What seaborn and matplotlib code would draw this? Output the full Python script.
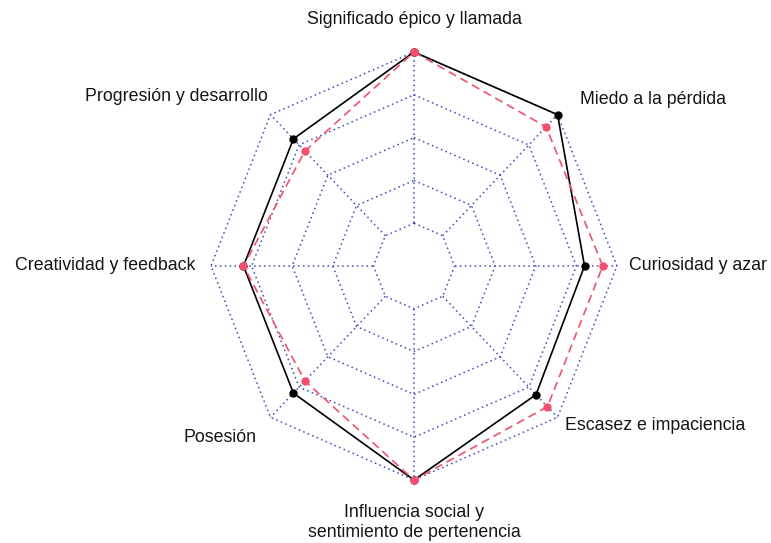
import numpy as np
import pandas as pd
import matplotlib
matplotlib.use("Agg")
import matplotlib.pyplot as plt
import seaborn as sns

categories = ["Significado épico y llamada", "Miedo a la pérdida", "Curiosidad y azar",
              "Escasez e impaciencia", "Influencia social y\nsentimiento de pertenencia",
              "Posesión", "Creatividad y feedback", "Progresión y desarrollo"]
serie_negra = [5.0, 5.0, 4.2, 4.25, 5.0, 4.2, 4.2, 4.2]
serie_roja = [5.0, 4.6, 4.65, 4.65, 5.0, 3.8, 4.2, 3.8]
niveles = [1, 2, 3, 4, 5]
vmax = 5.0

sns.set_theme(style="white")
plt.rcParams['font.family'] = ['Liberation Sans', 'DejaVu Sans']

fig = plt.figure(figsize=(7.71, 5.43), dpi=100)
ax = fig.add_axes([0, 0, 1, 1])
cx, cy, rx, ry = 414, 266, 203, 214
W, H = 771, 543
ax.set_xlim(-cx / rx, (W - cx) / rx)
ax.set_ylim(-(H - cy) / ry, cy / ry)
ax.axis("off")

n = len(categories)
ang = np.pi / 2 - np.arange(n) * 2 * np.pi / n
grid_col = "#2a35b5"

# grid rings
for lv in niveles:
    r = lv / vmax
    xs = np.append(r * np.cos(ang), r * np.cos(ang[0]))
    ys = np.append(r * np.sin(ang), r * np.sin(ang[0]))
    ax.plot(xs, ys, color=grid_col, lw=1.1, ls=(0, (1, 2.2)), alpha=0.9, zorder=1)
# spokes
r0 = niveles[0] / vmax
for a in ang:
    ax.plot([r0 * np.cos(a), np.cos(a)], [r0 * np.sin(a), np.sin(a)],
            color=grid_col, lw=1.1, ls=(0, (1, 2.2)), alpha=0.9, zorder=1)

def polygon(vals):
    v = np.array(vals) / vmax
    x = np.append(v * np.cos(ang), v[0] * np.cos(ang[0]))
    y = np.append(v * np.sin(ang), v[0] * np.sin(ang[0]))
    return pd.DataFrame({"x": x, "y": y, "ord": np.arange(len(x))})

d1 = polygon(serie_negra)
d2 = polygon(serie_roja)
sns.lineplot(data=d1, x="x", y="y", sort=False, estimator=None, color="black",
             lw=1.2, marker="o", markersize=6, markeredgewidth=0, ax=ax, zorder=3)
sns.lineplot(data=d2, x="x", y="y", sort=False, estimator=None, color="#F2506E",
             lw=1.2, marker="o", markersize=6, markeredgewidth=0, ax=ax, zorder=4)
ax.lines[-1].set_linestyle((0, (5, 3)))

# labels
lab_pos = [(0.0, 1.15, "center"), (0.818, 0.776, "left"), (1.06, 0.0, "left"),
           (0.744, -0.743, "left"), (0.0, -1.20, "center"), (-0.778, -0.80, "right"),
           (-1.079, 0.0, "right"), (-0.72, 0.79, "right")]
for lab, (x, y, ha) in zip(categories, lab_pos):
    ax.text(x, y, lab, ha=ha, va="center", fontsize=12.8, color="#151515",
            linespacing=1.25)

fig.savefig("out.png", dpi=100)
